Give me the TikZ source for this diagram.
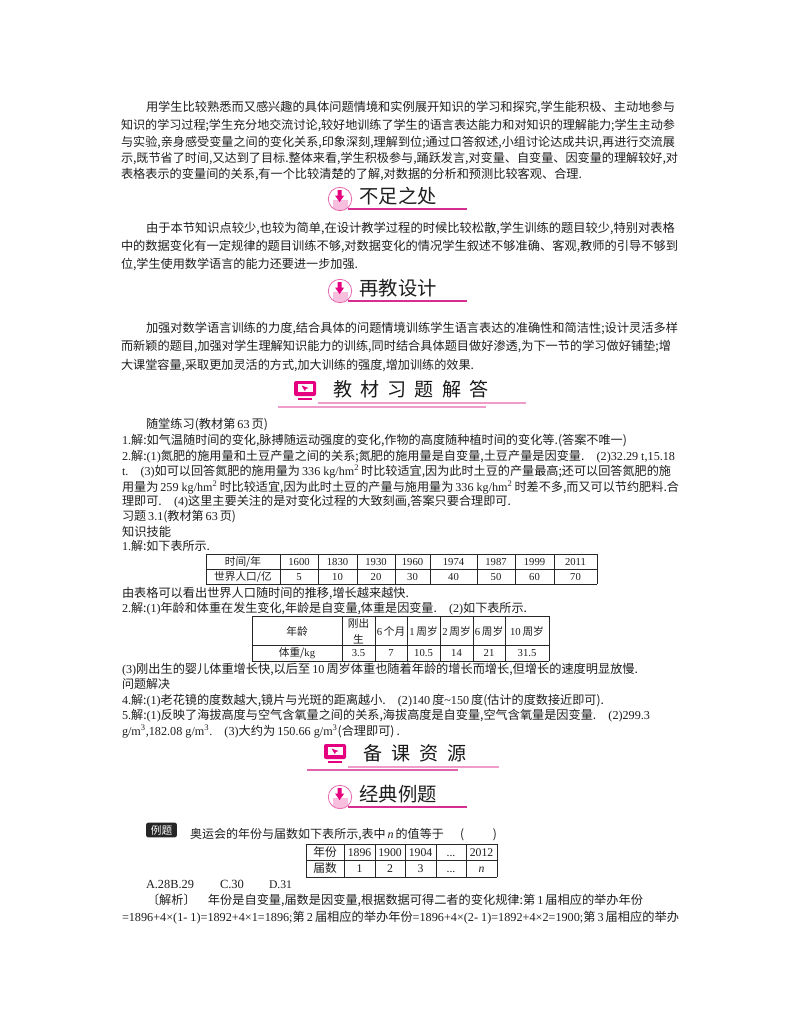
\documentclass[tikz,border=0pt]{standalone}
\usepackage{fontspec}
\usepackage{graphicx}
\setmainfont{Noto Sans CJK SC}
\newfontfamily\latfont{Liberation Serif}
\newcommand{\lat}[1]{{\latfont #1}}
\newcount\autoid
\definecolor{mag}{HTML}{E5007F}
\definecolor{rulepink}{HTML}{D62E90}
\definecolor{softpink}{HTML}{EE9CC9}
\definecolor{boxpink}{HTML}{F7BFDD}
\definecolor{ringpink}{HTML}{E86BB0}
\definecolor{inkc}{HTML}{1E1E1E}
\tikzset{
  lineText/.style={anchor=base west,inner sep=0pt,outer sep=0pt,text=inkc,font=\fontsize{9.6pt}{11pt}\selectfont},
  cellText/.style={anchor=center,inner sep=0pt,outer sep=0pt,text=inkc,font=\fontsize{8pt}{10pt}\selectfont,align=center},
  headText/.style={anchor=center,inner sep=0pt,outer sep=0pt,text=inkc,font=\fontsize{14.5pt}{16pt}\selectfont},
  bigText/.style={anchor=center,inner sep=0pt,outer sep=0pt,text=black!90,font=\fontsize{14.3pt}{18pt}\selectfont},
  tableRule/.style={draw=black!85,line width=0.6pt},
  badge/.style={fill=black!85,rounded corners=1.5pt,inner sep=0pt,text=white,font=\fontsize{8pt}{9pt}\selectfont},
}
\newcommand{\tl}[4]{\global\advance\autoid by 1
  \node[lineText] (line\the\autoid) at (#1,#2) {\resizebox{\dimexpr 0.75pt*\numexpr #3-#1\relax\relax}{!}{#4}};}
\newcommand{\cellt}[3]{\global\advance\autoid by 1
  \node[cellText] (cell\the\autoid) at (#1,#2) {\vphantom{0}#3};}
\newcommand{\arrowhead}[4]{% x y lineend, text
  \global\advance\autoid by 1
  \draw[rulepink,line width=0.9pt] (#1+8,#2+10) -- (#3,#2+10);
  \fill[white] (#1,#2) circle (11.7);
  \begin{scope}
    \clip (#1,#2) circle (11.5);
    \fill[boxpink] (#1-7.5,#2+1) rectangle (#1+7.5,#2+12);
  \end{scope}
  \draw[ringpink,line width=0.6pt] (#1,#2) circle (11.7);
  \fill[mag] (#1-2.5,#2-9) -- (#1+1.7,#2-9) -- (#1+1.7,#2-3.5) -- (#1+4.2,#2-3.5) -- (#1-0.4,#2+3) -- (#1-5,#2-3.5) -- (#1-2.5,#2-3.5) -- cycle;
  \node[headText] (head\the\autoid) at (#1+58,#2-2.5) {#4};}
\newcommand{\monitor}[2]{%
  \fill[mag,rounded corners=1.5pt] (#1-11,#2-10) rectangle (#1+11,#2+5);
  \fill[white] (#1-7.5,#2-7) rectangle (#1+7.5,#2+0.5);
  \fill[mag] (#1-3.5,#2-5.5) -- (#1+3.5,#2-3) -- (#1+0.8,#2-2) -- (#1,#2+0.3) -- cycle;
  \fill[mag] (#1-7,#2+6.5) rectangle (#1+7,#2+9);}
\begin{document}
\begin{tikzpicture}[x=0.75pt,y=-0.75pt]
\useasboundingbox (0,0) rectangle (800,1028);
\fill[white] (0,0) rectangle (800,1028);
% paragraph 1
\tl{146}{111}{675}{用学生比较熟悉而又感兴趣的具体问题情境和实例展开知识的学习和探究,学生能积极、主动地参与}
\tl{121}{129}{675}{知识的学习过程;学生充分地交流讨论,较好地训练了学生的语言表达能力和对知识的理解能力;学生主动参}
\tl{121}{146}{675}{与实验,亲身感受变量之间的变化关系,印象深刻,理解到位;通过口答叙述,小组讨论达成共识,再进行交流展}
\tl{121}{162}{678}{示,既节省了时间,又达到了目标.整体来看,学生积极参与,踊跃发言,对变量、自变量、因变量的理解较好,对}
\tl{121}{178}{582}{表格表示的变量间的关系,有一个比较清楚的了解,对数据的分析和预测比较客观、合理.}
\arrowhead{340}{199}{467}{不足之处}
% paragraph 2
\tl{146}{232}{675}{由于本节知识点较少,也较为简单,在设计教学过程的时候比较松散,学生训练的题目较少,特别对表格}
\tl{121}{250}{678}{中的数据变化有一定规律的题目训练不够,对数据变化的情况学生叙述不够准确、客观,教师的引导不够到}
\tl{121}{268}{358}{位,学生使用数学语言的能力还要进一步加强.}
\arrowhead{340}{291}{467}{再教设计}
% paragraph 3
\tl{146}{332}{678}{加强对数学语言训练的力度,结合具体的问题情境训练学生语言表达的准确性和简洁性;设计灵活多样}
\tl{121}{350}{671}{而新颖的题目,加强对学生理解知识能力的训练,同时结合具体题目做好渗透,为下一节的学习做好铺垫;增}
\tl{121}{369}{474}{大课堂容量,采取更加灵活的方式,加大训练的强度,增加训练的效果.}
% heading 3
\draw[softpink,line width=1pt] (318,403) -- (526,403);
\draw[softpink,line width=1pt] (278,407) -- (486,407);
\monitor{305}{391}
\node[bigText] (bigA) at (411,389) {教\hspace{6pt}材\hspace{6pt}习\hspace{6pt}题\hspace{6pt}解\hspace{6pt}答};
% exercises
\tl{146}{428}{268}{随堂练习(教材第\,\lat{63}\,页)}
\tl{122}{444}{627}{\lat{1.}解:如气温随时间的变化,脉搏随运动强度的变化,作物的高度随种植时间的变化等.(答案不唯一)}
\tl{122}{460}{675}{\lat{2.}解:\lat{(1)}氮肥的施用量和土豆产量之间的关系;氮肥的施用量是自变量,土豆产量是因变量.\quad\lat{(2)32.29 t,15.18}}
\tl{122}{475}{671}{\lat{t.}\quad\lat{(3)}如可以回答氮肥的施用量为\,\lat{336 kg/hm\textsuperscript{2}}\,时比较适宜,因为此时土豆的产量最高;还可以回答氮肥的施}
\tl{122}{491}{679}{用量为\,\lat{259 kg/hm\textsuperscript{2}}\,时比较适宜,因为此时土豆的产量与施用量为\,\lat{336 kg/hm\textsuperscript{2}}\,时差不多,而又可以节约肥料.合}
\tl{122}{505}{511}{理即可.\quad\lat{(4)}这里主要关注的是对变化过程的大致刻画,答案只要合理即可.}
\tl{122}{520}{236}{习题\,\lat{3.1}(教材第\,\lat{63}\,页)}
\tl{122}{536}{171}{知识技能}
\tl{122}{550}{210}{\lat{1.}解:如下表所示.}
% table 1
\foreach \xx in {206,280,318,357,395,430,477,515,554,597}{\draw[tableRule] (\xx,554) -- (\xx,584);}
\foreach \yy in {554,569,584}{\draw[tableRule] (206,\yy) -- (597,\yy);}
\cellt{243}{561.5}{时间/年}\cellt{299}{561.5}{\lat{1600}}\cellt{337.5}{561.5}{\lat{1830}}\cellt{376}{561.5}{\lat{1930}}\cellt{412.5}{561.5}{\lat{1960}}\cellt{453.5}{561.5}{\lat{1974}}\cellt{496}{561.5}{\lat{1987}}\cellt{534.5}{561.5}{\lat{1999}}\cellt{575.5}{561.5}{\lat{2011}}
\cellt{243}{576.5}{世界人口/亿}\cellt{299}{576.5}{\lat{5}}\cellt{337.5}{576.5}{\lat{10}}\cellt{376}{576.5}{\lat{20}}\cellt{412.5}{576.5}{\lat{30}}\cellt{453.5}{576.5}{\lat{40}}\cellt{496}{576.5}{\lat{50}}\cellt{534.5}{576.5}{\lat{60}}\cellt{575.5}{576.5}{\lat{70}}
\tl{122}{597}{409}{由表格可以看出世界人口随时间的推移,增长越来越快.}
\tl{122}{612}{527}{\lat{2.}解:\lat{(1)}年龄和体重在发生变化,年龄是自变量,体重是因变量.\quad\lat{(2)}如下表所示.}
% table 2
\foreach \xx in {252,342,375,407,440,473,505,549}{\draw[tableRule] (\xx,616) -- (\xx,661);}
\foreach \yy in {616,645,661}{\draw[tableRule] (252,\yy) -- (549,\yy);}
\cellt{297}{631}{年龄}\cellt{358.5}{631}{刚出\\[2pt]生}\cellt{391}{631}{\lat{6}\,个月}\cellt{423.5}{631}{\lat{1}\,周岁}\cellt{456.5}{631}{\lat{2}\,周岁}\cellt{489}{631}{\lat{6}\,周岁}\cellt{527}{631}{\lat{10}\,周岁}
\cellt{297}{653}{体重/\lat{kg}}\cellt{358.5}{653}{\lat{3.5}}\cellt{391}{653}{\lat{7}}\cellt{423.5}{653}{\lat{10.5}}\cellt{456.5}{653}{\lat{14}}\cellt{489}{653}{\lat{21}}\cellt{527}{653}{\lat{31.5}}
\tl{122}{673}{638}{\lat{(3)}刚出生的婴儿体重增长快,以后至\,\lat{10}\,周岁体重也随着年龄的增长而增长,但增长的速度明显放慢.}
\tl{122}{688}{170}{问题解决}
\tl{122}{704}{604}{\lat{4.}解:\lat{(1)}老花镜的度数越大,镜片与光斑的距离越小.\quad\lat{(2)140}\,度\lat{\textasciitilde 150}\,度(估计的度数接近即可).}
\tl{122}{719}{650}{\lat{5.}解:\lat{(1)}反映了海拔高度与空气含氧量之间的关系,海拔高度是自变量,空气含氧量是因变量.\quad\lat{(2)299.3}}
\tl{122}{735}{400}{\lat{g/m\textsuperscript{3},182.08 g/m\textsuperscript{3}.}\quad\lat{(3)}大约为\,\lat{150.66 g/m\textsuperscript{3}}(合理即可)\,.}
% heading 4
\draw[softpink,line width=1pt] (348,767) -- (499,767);
\draw[rulepink!75,line width=1pt] (307,770) -- (458,770);
\monitor{335}{754}
\node[bigText] (bigB) at (415,753) {备\hspace{6.5pt}课\hspace{6.5pt}资\hspace{6.5pt}源};
\arrowhead{340}{797}{467}{经典例题}
% example
\node[badge,minimum width=23pt,minimum height=11pt] (bdg) at (161.5,830) {例题};
\tl{190}{838}{497}{奥运会的年份与届数如下表所示,表中\,\lat{\itshape n}\,的值等于\hspace{13pt}(\hspace{23pt})}
% table 3
\foreach \xx in {306,344,375,405,436,466,497}{\draw[tableRule] (\xx,844) -- (\xx,877);}
\foreach \yy in {844,860,877}{\draw[tableRule] (306,\yy) -- (497,\yy);}
\begin{scope}[cellText/.append style={font=\fontsize{8.8pt}{10pt}\selectfont}]
\cellt{325}{852}{年份}\cellt{359.5}{852}{\lat{1896}}\cellt{390}{852}{\lat{1900}}\cellt{420.5}{852}{\lat{1904}}\cellt{451}{852}{\lat{...}}\cellt{481.5}{852}{\lat{2012}}
\cellt{325}{868.5}{届数}\cellt{359.5}{868.5}{\lat{1}}\cellt{390}{868.5}{\lat{2}}\cellt{420.5}{868.5}{\lat{3}}\cellt{451}{868.5}{\lat{...}}\cellt{481.5}{868.5}{\lat{\itshape n}}
\end{scope}
\tl{146}{888}{194}{\lat{A.28B.29}}
\tl{220}{888}{244}{\lat{C.30}}
\tl{269}{888}{292}{\lat{D.31}}
\tl{147}{904}{643}{〔解析〕\quad 年份是自变量,届数是因变量,根据数据可得二者的变化规律:第\,\lat{1}\,届相应的举办年份}
\tl{122}{921}{679}{\lat{=1896+4×(1- 1)=1892+4×1=1896;}第\,\lat{2}\,届相应的举办年份\lat{=1896+4×(2- 1)=1892+4×2=1900;}第\,\lat{3}\,届相应的举办}
\end{tikzpicture}
\end{document}
